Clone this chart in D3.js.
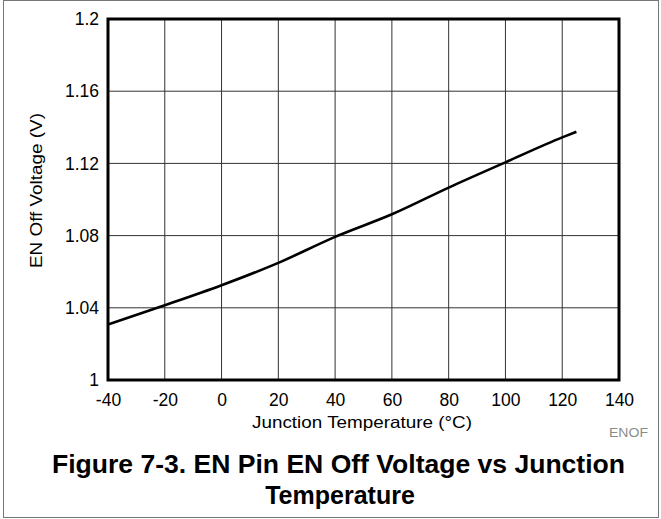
<!DOCTYPE html>
<html><head><meta charset="utf-8">
<script src="https://cdn.jsdelivr.net/npm/d3@7"></script>
<style>body{margin:0;background:#fff}svg{display:block}text{font-family:"Liberation Sans",Arial,sans-serif}</style>
</head><body>
<svg id="c" width="661" height="519"></svg>
<script>
const temps = [-40, -20, 0, 20, 40, 60, 80, 100, 120, 125];
const voltages = [1.0308, 1.0414, 1.0525, 1.0649, 1.0793, 1.0918, 1.1066, 1.1206, 1.1344, 1.1375];
const xTicks = [-40, -20, 0, 20, 40, 60, 80, 100, 120, 140];
const xTickLabels = ["-40", "-20", "0", "20", "40", "60", "80", "100", "120", "140"];
const yTicks = [1, 1.04, 1.08, 1.12, 1.16, 1.2];
const yTickLabels = ["1", "1.04", "1.08", "1.12", "1.16", "1.2"];

const svg = d3.select("#c");
const L = 108, R = 619, T = 19, B = 380;
const x = d3.scaleLinear().domain([-40, 140]).range([L, R]);
const y = d3.scaleLinear().domain([1, 1.2]).range([B, T]);
const FF = "'Liberation Sans',Arial,sans-serif";

// outer frame
svg.append("rect").attr("x", 3.5).attr("y", 0.5).attr("width", 655).attr("height", 517)
  .attr("fill", "none").attr("stroke", "#777").attr("stroke-width", 1);

// grid
svg.append("g").selectAll("line").data(xTicks).join("line")
  .attr("x1", d => x(d)).attr("x2", d => x(d)).attr("y1", T).attr("y2", B)
  .attr("stroke", "#333").attr("stroke-width", 1);
svg.append("g").selectAll("line").data(yTicks).join("line")
  .attr("y1", d => y(d)).attr("y2", d => y(d)).attr("x1", L).attr("x2", R)
  .attr("stroke", "#333").attr("stroke-width", 1);

// axes via d3
const xAxis = d3.axisBottom(x).tickValues(xTicks).tickFormat((d, i) => xTickLabels[i]).tickSize(0).tickPadding(14);
const gx = svg.append("g").attr("transform", `translate(0,${B})`).call(xAxis);
gx.select(".domain").remove();
gx.selectAll("text").attr("font-size", 17.5).attr("fill", "#000").style("font-family", FF);

const yAxis = d3.axisLeft(y).tickValues(yTicks).tickFormat((d, i) => yTickLabels[i]).tickSize(0).tickPadding(9);
const gy = svg.append("g").attr("transform", `translate(${L},0)`).call(yAxis);
gy.select(".domain").remove();
gy.selectAll("text").attr("font-size", 17.5).attr("fill", "#000").style("font-family", FF);

// plot border
svg.append("rect").attr("x", L).attr("y", T).attr("width", R - L).attr("height", B - T)
  .attr("fill", "none").attr("stroke", "#000").attr("stroke-width", 3);

// data line
const line = d3.line().x((d, i) => x(temps[i])).y(d => y(d)).curve(d3.curveMonotoneX);
svg.append("path").datum(voltages).attr("d", line)
  .attr("fill", "none").attr("stroke", "#000").attr("stroke-width", 2.6);

// titles
svg.append("text").attr("x", 362).attr("y", 428).attr("text-anchor", "middle")
  .attr("font-size", 16.5).attr("textLength", 220).attr("lengthAdjust", "spacingAndGlyphs")
  .text("Junction Temperature (°C)");
svg.append("text").attr("transform", `translate(41.5,190.5) rotate(-90)`)
  .attr("text-anchor", "middle").attr("font-size", 16.5)
  .attr("textLength", 155).attr("lengthAdjust", "spacingAndGlyphs").text("EN Off Voltage (V)");
svg.append("text").attr("x", 648).attr("y", 437).attr("text-anchor", "end")
  .attr("font-size", 12.5).attr("fill", "#8a8a8a")
  .attr("textLength", 39).attr("lengthAdjust", "spacingAndGlyphs").text("ENOF");
svg.append("text").attr("x", 52).attr("y", 473).attr("text-anchor", "start")
  .attr("font-size", 25).attr("font-weight", "bold")
  .attr("textLength", 573).attr("lengthAdjust", "spacingAndGlyphs")
  .text("Figure 7-3. EN Pin EN Off Voltage vs Junction");
svg.append("text").attr("x", 340).attr("y", 504).attr("text-anchor", "middle")
  .attr("font-size", 25).attr("font-weight", "bold").text("Temperature");
</script>
</body></html>
